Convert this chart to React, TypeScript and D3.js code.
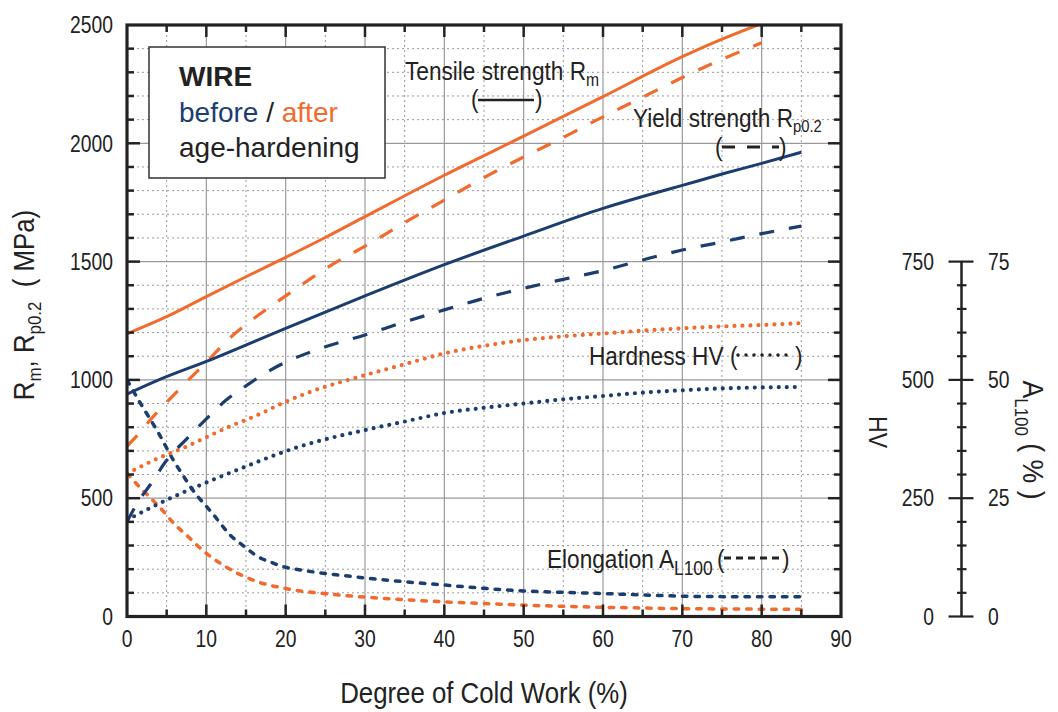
import React from 'react';
import * as d3 from 'd3';

// degree of cold work (%) -> value
const rmAfter: [number, number][] = [[0, 1195], [5, 1267], [10, 1352], [15, 1436], [20, 1518], [25, 1602], [30, 1690], [40, 1865], [50, 2030], [60, 2197], [70, 2366], [75, 2440], [79.5, 2500]];
const rmBefore: [number, number][] = [[0, 940], [4, 1000], [10, 1078], [20, 1218], [30, 1355], [40, 1487], [50, 1608], [60, 1725], [65, 1775], [70, 1822], [75, 1870], [80, 1915], [85, 1962]];
const rpAfter: [number, number][] = [[0, 720], [1, 755], [3.5, 852], [6.7, 964], [10, 1075], [13, 1178], [16.5, 1272], [20, 1355], [23, 1425], [26, 1490], [30, 1565], [35, 1665], [40, 1760], [45, 1855], [50, 1942], [55, 2025], [60, 2112], [65, 2195], [70, 2278], [75, 2355], [80, 2425]];
const rpBefore: [number, number][] = [[0, 400], [1.5, 490], [3, 560], [5, 660], [7.5, 750], [10, 835], [12.5, 915], [15, 975], [17.5, 1030], [20, 1075], [22.5, 1110], [25, 1140], [30, 1190], [35, 1245], [40, 1296], [45, 1345], [50, 1387], [55, 1425], [60, 1462], [65, 1507], [70, 1549], [75, 1583], [80, 1618], [85, 1650]];
// hardness HV
const hvAfter: [number, number][] = [[0, 302], [4, 335], [7.5, 359], [10, 379], [13, 402], [16.5, 426], [19.5, 450], [23, 474], [30, 510], [35, 533], [40, 556], [45, 572], [50, 584], [55, 592], [60, 598], [65, 604], [70, 609], [75, 613], [80, 616], [85, 620]];
const hvBefore: [number, number][] = [[0, 204], [3, 230], [6, 254], [9, 276], [12, 297], [15, 317], [18, 337], [21, 355], [24, 370], [30, 394], [35, 412], [40, 430], [45, 441], [50, 450], [55, 459], [60, 466], [65, 473], [70, 478], [75, 482], [80, 484], [85, 485]];
// elongation A_L100 (%)
const elAfter: [number, number][] = [[0, 30.3], [1.5, 27.5], [3, 25], [4.5, 22.4], [6, 19.5], [7.5, 17.2], [9, 14.8], [10.5, 12.7], [12, 11], [13.5, 9.5], [15, 8.3], [16.5, 7.3], [18, 6.6], [19.5, 6.1], [21, 5.6], [22.5, 5.25], [24, 5.0], [27, 4.5], [30, 4.1], [35, 3.55], [40, 3.1], [45, 2.75], [50, 2.4], [55, 2.15], [60, 1.95], [65, 1.8], [70, 1.65], [75, 1.6], [80, 1.55], [85, 1.5]];
const elBefore: [number, number][] = [[0, 50], [2, 44.2], [3, 41.5], [4, 38.7], [5, 35.6], [6, 32.6], [7, 30], [8, 27.4], [9, 25.2], [10, 23.3], [11, 21.3], [12, 19.2], [13, 17.2], [14, 15.8], [15, 14.5], [16, 13.2], [17, 12.2], [18, 11.6], [19, 10.9], [20, 10.4], [22, 9.8], [24, 9.3], [27, 8.7], [30, 8.15], [35, 7.35], [40, 6.65], [45, 5.95], [50, 5.4], [55, 5.1], [60, 4.85], [65, 4.55], [70, 4.3], [75, 4.2], [80, 4.2], [85, 4.2]];

const xTicks = [0, 10, 20, 30, 40, 50, 60, 70, 80, 90];
const yTicks = [0, 500, 1000, 1500, 2000, 2500];
const hvTicks = [0, 250, 500, 750];
const aTicks = [0, 25, 50, 75];

const ORANGE = '#f26a2e';
const BLUE = '#1b3d6f';
const INK = '#222';
const GRID = '#9a9a9a';
const sans = "'Liberation Sans', Arial, Helvetica, sans-serif";

const W = 1058, H = 712;
const left = 127, right = 841, top = 25, bottom = 616.5;

// condensed text: Liberation Sans squeezed horizontally
function NT(props: { x: number; y: number; size: number; sx?: number; rot?: number; anchor?: string; dy?: string; children: React.ReactNode }) {
  const { x, y, size, sx = 0.87, rot = 0, anchor = 'start', dy, children } = props;
  return (
    <g transform={`translate(${x},${y}) rotate(${rot}) scale(${sx},1)`}>
      <text fontFamily={sans} fontSize={size} textAnchor={anchor as any} dy={dy} fill={INK}>{children}</text>
    </g>
  );
}

export default function App() {
  const x = d3.scaleLinear().domain([0, 90]).range([left, right]);
  const y = d3.scaleLinear().domain([0, 2500]).range([bottom, top]);
  const yHV = d3.scaleLinear().domain([0, 750]).range([bottom, y(1500)]);
  const yA = d3.scaleLinear().domain([0, 75]).range([bottom, y(1500)]);
  const axisX = 961.5;

  const mk = (sy: d3.ScaleLinear<number, number>) =>
    d3.line<[number, number]>().x(d => x(d[0])).y(d => sy(d[1])).curve(d3.curveMonotoneX);

  const solid = { strokeWidth: 3 };
  const longDash = { strokeWidth: 3.2, strokeDasharray: '15 15' };
  const dotted = { strokeWidth: 4.2, strokeDasharray: '0 8', strokeLinecap: 'round' as const };
  const shortDash = { strokeWidth: 3.5, strokeDasharray: '4.5 8', strokeLinecap: 'round' as const };

  const series = [
    { d: mk(yA)(elBefore), c: BLUE, s: shortDash },
    { d: mk(yA)(elAfter), c: ORANGE, s: shortDash },
    { d: mk(yHV)(hvBefore), c: BLUE, s: dotted },
    { d: mk(yHV)(hvAfter), c: ORANGE, s: dotted },
    { d: mk(y)(rpBefore), c: BLUE, s: longDash },
    { d: mk(y)(rpAfter), c: ORANGE, s: longDash },
    { d: mk(y)(rmBefore), c: BLUE, s: solid },
    { d: mk(y)(rmAfter), c: ORANGE, s: solid },
  ];

  const minorX = d3.range(5, 90, 5);
  const minorY = d3.range(100, 2500, 100);
  const hvMinor = d3.range(0, 751, 50);

  return (
    <svg width={W} height={H} style={{ position: 'absolute', left: 0, top: 0, background: '#fff' }}>
      <defs>
        <clipPath id="plot"><rect x={left} y={top} width={right - left} height={bottom - top} /></clipPath>
      </defs>

      {/* grid */}
      {minorX.filter(v => v % 10 !== 0).map(v => (
        <line key={'gx' + v} x1={x(v)} x2={x(v)} y1={top} y2={bottom} stroke={GRID} strokeWidth={1} strokeDasharray="2 3" />
      ))}
      {minorY.filter(v => v % 500 !== 0).map(v => (
        <line key={'gy' + v} x1={left} x2={right} y1={y(v)} y2={y(v)} stroke={GRID} strokeWidth={1} strokeDasharray="2 3" />
      ))}
      {xTicks.slice(1, -1).map(v => (
        <line key={'GX' + v} x1={x(v)} x2={x(v)} y1={top} y2={bottom} stroke={GRID} strokeWidth={1.2} />
      ))}
      {yTicks.slice(1, -1).map(v => (
        <line key={'GY' + v} x1={left} x2={right} y1={y(v)} y2={y(v)} stroke={GRID} strokeWidth={1.2} />
      ))}

      {/* legend box */}
      <rect x={149} y={47} width={236} height={131} fill="#fff" stroke="#333" strokeWidth={1.5} />
      <text x={179} y={86} fontFamily={sans} fontSize={28} fontWeight="bold" fill={INK}>WIRE</text>
      <text x={179} y={122} fontFamily={sans} fontSize={28}>
        <tspan fill={BLUE}>before</tspan><tspan fill={INK}> / </tspan><tspan fill={ORANGE}>after</tspan>
      </text>
      <text x={179} y={157} fontFamily={sans} fontSize={28} fill={INK}>age-hardening</text>

      {/* curves */}
      <g clipPath="url(#plot)" fill="none">
        {series.map((s, i) => (
          <path key={i} d={s.d || ''} stroke={s.c} {...s.s} />
        ))}
      </g>

      {/* frame and ticks */}
      <rect x={left} y={top} width={right - left} height={bottom - top} fill="none" stroke={INK} strokeWidth={3.2} />
      <g stroke={INK} strokeWidth={2.5}>
        {minorX.map(v => {
          const len = v % 10 === 0 ? 12 : 7;
          return (
            <g key={'tx' + v}>
              <line x1={x(v)} x2={x(v)} y1={bottom} y2={bottom - len} />
              <line x1={x(v)} x2={x(v)} y1={top} y2={top + len} />
            </g>
          );
        })}
        {minorY.map(v => {
          const len = v % 500 === 0 ? 13 : 7;
          return (
            <g key={'ty' + v}>
              <line x1={left} x2={left + len} y1={y(v)} y2={y(v)} />
              <line x1={right} x2={right - len} y1={y(v)} y2={y(v)} />
            </g>
          );
        })}
      </g>

      {/* tick labels */}
      {xTicks.map(v => (
        <NT key={'lx' + v} x={x(v)} y={647} size={23} sx={0.84} anchor="middle">{v}</NT>
      ))}
      {yTicks.map(v => (
        <NT key={'ly' + v} x={113} y={y(v)} size={23} sx={0.84} anchor="end" dy="0.36em">{v}</NT>
      ))}

      {/* right axis: HV and A_L100 */}
      <line x1={axisX} x2={axisX} y1={yHV(750)} y2={yHV(0)} stroke={INK} strokeWidth={2.5} />
      {hvMinor.map(v => {
        const major = v % 250 === 0;
        return (
          <line key={'hv' + v} x1={axisX - (major ? 13 : 4.5)} x2={axisX + (major ? 12 : 5)} y1={yHV(v)} y2={yHV(v)} stroke={INK} strokeWidth={2.2} />
        );
      })}
      {hvTicks.map(v => (
        <NT key={'lhv' + v} x={934} y={yHV(v)} size={23} sx={0.84} anchor="end" dy="0.36em">{v}</NT>
      ))}
      {aTicks.map(v => (
        <NT key={'la' + v} x={988} y={yA(v)} size={23} sx={0.84} anchor="start" dy="0.36em">{v}</NT>
      ))}

      {/* axis titles */}
      <NT x={(left + right) / 2} y={703} size={29} sx={0.89} anchor="middle">Degree of Cold Work (%)</NT>
      <NT x={34} y={305} size={29} sx={0.89} rot={-90} anchor="middle">
        R<tspan dy={7} fontSize={19}>m</tspan><tspan dy={-7}>, R</tspan><tspan dy={7} fontSize={19}>p0.2</tspan><tspan dy={-7}>{'\u00a0\u00a0(\u00a0MPa)'}</tspan>
      </NT>
      <NT x={869} y={432} size={26} sx={0.89} rot={90} anchor="middle">HV</NT>
      <NT x={1023} y={440} size={30} sx={0.89} rot={90} anchor="middle">
        A<tspan dy={8} fontSize={19}>L100</tspan><tspan dy={-8}>{'\u00a0(\u00a0%\u00a0)'}</tspan>
      </NT>

      {/* curve annotations */}
      <NT x={405} y={80} size={26}>Tensile strength R<tspan dy={6} fontSize={18}>m</tspan></NT>
      <NT x={471} y={108} size={26}>(</NT>
      <NT x={535} y={108} size={26}>)</NT>
      <line x1={478} x2={534} y1={100} y2={100} stroke={INK} strokeWidth={2.5} />

      <NT x={633} y={127} size={26}>Yield strength R<tspan dy={5} fontSize={17}>p0.2</tspan></NT>
      <NT x={715} y={156} size={26}>(</NT>
      <NT x={779} y={156} size={26}>)</NT>
      <line x1={722} x2={779} y1={147} y2={147} stroke={INK} strokeWidth={3} strokeDasharray="13 12" />

      <NT x={589} y={365} size={26}>Hardness HV</NT>
      <NT x={730} y={365} size={26}>(</NT>
      <NT x={795} y={365} size={26}>)</NT>
      <line x1={738} x2={794} y1={355} y2={355} stroke={INK} strokeWidth={3.5} strokeDasharray="0 8" strokeLinecap="round" />

      <NT x={547} y={568} size={26}>Elongation A<tspan dy={7} fontSize={20}>L100</tspan></NT>
      <NT x={717} y={568} size={26}>(</NT>
      <NT x={782} y={568} size={26}>)</NT>
      <line x1={724} x2={780} y1={558} y2={558} stroke={INK} strokeWidth={3} strokeDasharray="7 5" />
    </svg>
  );
}
